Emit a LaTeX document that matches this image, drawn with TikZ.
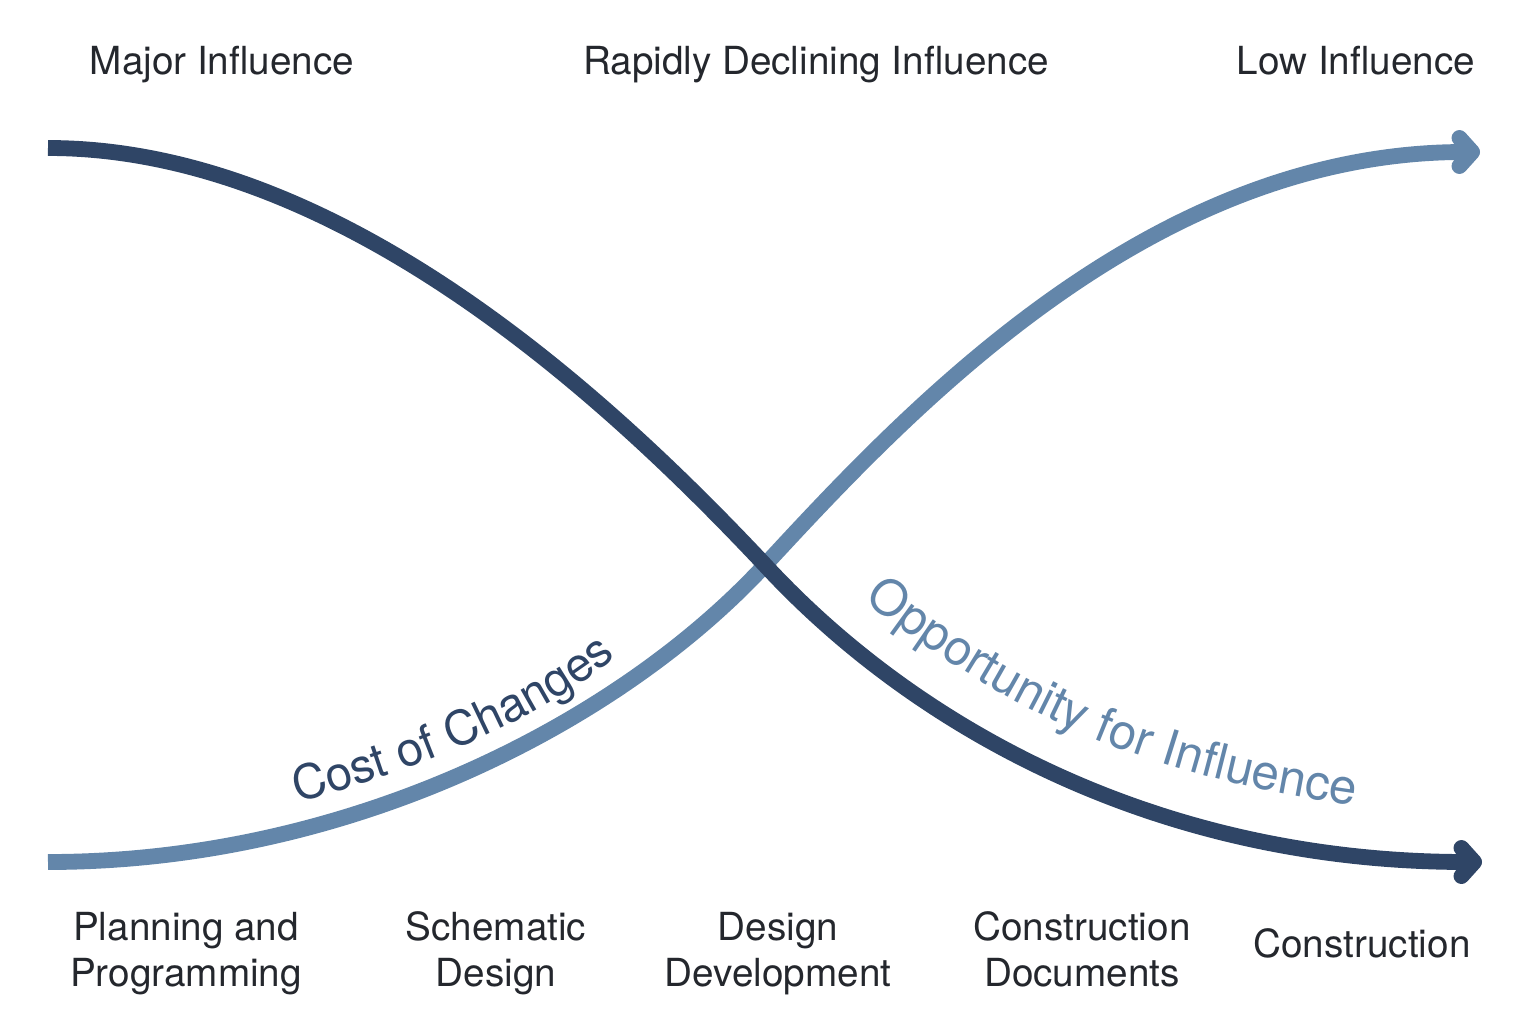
\documentclass[tikz,border=0pt]{standalone}
\usepackage{fontspec}
\setmainfont{TeX Gyre Heros}
\usepackage{tikz}
\usetikzlibrary{arrows.meta,decorations.text}
\definecolor{navy}{HTML}{2F4566}
\definecolor{steel}{HTML}{6386AA}
\definecolor{ink}{HTML}{24272D}

\tikzset{
    curve/.style={line width=4.5pt},
    tip/.style={-{Straight Barb[length=3.6pt,width=8pt,round]}},
    phase/.style={text=ink, align=center, anchor=base,
        font=\fontsize{11}{12.8}\selectfont},
}

\begin{document}
\begin{tikzpicture}[x=0.01cm,y=-0.01cm]
    \useasboundingbox (0,0) rectangle (1536,1024);

    \coordinate (S1) at (48,148);
    \coordinate (S2) at (48,862);
    \coordinate (X) at (765,565);
    \coordinate (E1) at (1482,862);
    \coordinate (E2) at (1480,152);

    % influence curve (light) under cost curve (dark)
    \draw[curve, steel, tip] (S2) .. controls (350,862) and (620,722) .. (X)
        .. controls (910,408) and (1150,152) .. (E2);
    \draw[curve, navy, tip] (S1) .. controls (340,148) and (610,400) .. (X)
        .. controls (910,722) and (1150,862) .. (E1);

    % curved labels
    \path[decorate, decoration={text along path, text color=navy,
        text={|\fontsize{13.5}{16}\selectfont|Cost of Changes}}]
        (297,802) .. controls (420,770) and (540,720) .. (618,655);
    \path[decorate, decoration={text along path, text color=steel,
        text={|\fontsize{14}{16}\selectfont|Opportunity for Influence}}]
        (864,600) .. controls (1034,735) and (1180,781) .. (1360,806);

    % top labels
    \node[phase] (major) at (222,74) {Major Influence};
    \node[phase] (rapid) at (816,74) {Rapidly Declining Influence};
    \node[phase] (low) at (1356,74) {Low Influence};

    % phases
    \node[phase] (plan) at (186,986) {Planning and\\Programming};
    \node[phase] (schem) at (496,986) {Schematic\\Design};
    \node[phase] (dd) at (778,986) {Design\\Development};
    \node[phase] (cd) at (1082,986) {Construction\\Documents};
    \node[phase] (con) at (1362,957) {Construction};
\end{tikzpicture}
\end{document}
